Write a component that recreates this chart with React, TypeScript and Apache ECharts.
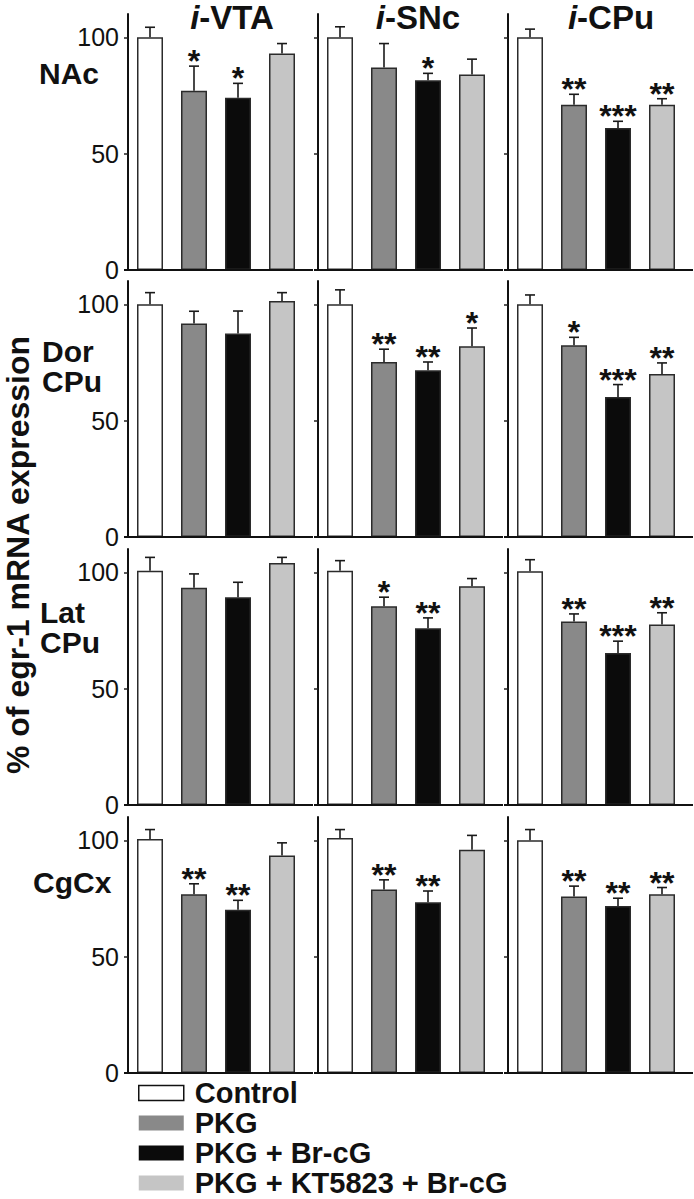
import React, { useEffect, useRef } from "react";
import * as echarts from "echarts";

const groups = ["Control", "PKG", "PKG + Br-cG", "PKG + KT5823 + Br-cG"];
const sites = ["i-VTA", "i-SNc", "i-CPu"];
const regions = ["NAc", "Dor\nCPu", "Lat\nCPu", "CgCx"];
const yTicks = [0, 50, 100];
const yTitle = "% of egr-1 mRNA expression";

// [site][group] : i-VTA, i-SNc, i-CPu
const meanNAc = [[100, 77, 74, 93], [100, 87, 81.5, 84], [100, 71, 61, 71]];
const errNAc = [[4.3, 10.6, 6.2, 4.3], [4.5, 10.3, 3, 6.6], [3.5, 4.5, 2.9, 2.6]];
const sigNAc = [["", "*", "*", ""], ["", "", "*", ""], ["", "**", "***", "**"]];

const meanDor = [[100, 91.7, 87.4, 101.4], [100, 75.2, 71.7, 82], [100, 82.4, 60.2, 70]];
const errDor = [[5, 5.3, 9.7, 3.6], [6.2, 5.5, 3.5, 7.8], [4, 3.4, 5.3, 4.8]];
const sigDor = [["", "", "", ""], ["", "**", "**", "*"], ["", "*", "***", "**"]];

const meanLat = [[100.7, 93.3, 89.3, 104], [100.7, 85.4, 76, 94], [100.4, 78.9, 65.3, 77.6]];
const errLat = [[5.7, 6, 6.4, 2.4], [4.3, 3.9, 4.4, 3.3], [5, 3.2, 5.1, 5]];
const sigLat = [["", "", "", ""], ["", "*", "**", ""], ["", "**", "***", "**"]];

const meanCgCx = [[100.6, 76.8, 70.1, 93.5], [101, 78.9, 73.4, 95.9], [100, 75.8, 71.8, 76.8]];
const errCgCx = [[4, 4.5, 4.1, 5.4], [3.6, 4.1, 4.8, 6.2], [4.6, 4.5, 3.3, 2.9]];
const sigCgCx = [["", "**", "**", ""], ["", "**", "**", ""], ["", "**", "**", "**"]];

const means = [meanNAc, meanDor, meanLat, meanCgCx];
const errs = [errNAc, errDor, errLat, errCgCx];
const sigs = [sigNAc, sigDor, sigLat, sigCgCx];

const groupColors = ["#ffffff", "#898989", "#0b0b0b", "#c5c5c5"];
const FONT = "'Liberation Sans', Arial, Helvetica, sans-serif";

const gridLefts = [128, 318, 508];
const gridWidth = 176;
const gridTops = [14, 281, 549, 817];
const gridHeight = 256;
const rowLabelPos = [
  { x: 39, y: 58 },
  { x: 42, y: 336 },
  { x: 40, y: 597 },
  { x: 33, y: 867 },
];
const titleCenters = [232, 418, 611];

export default function App() {
  const ref = useRef<HTMLDivElement>(null);

  useEffect(() => {
    if (!ref.current) return;
    const chart = echarts.init(ref.current, null, { renderer: "svg" });

    const grid: any[] = [];
    const xAxis: any[] = [];
    const yAxis: any[] = [];
    const series: any[] = [];
    const graphic: any[] = [];

    let k = 0;
    for (let r = 0; r < 4; r++) {
      for (let c = 0; c < 3; c++) {
        grid.push({
          left: gridLefts[c],
          top: gridTops[r],
          width: gridWidth,
          height: gridHeight,
          containLabel: false,
        });
        xAxis.push({
          type: "category",
          gridIndex: k,
          data: groups,
          boundaryGap: true,
          axisLine: { show: false },
          axisTick: { show: false },
          axisLabel: { show: false },
          splitLine: { show: false },
        });
        yAxis.push({
          type: "value",
          gridIndex: k,
          min: 0,
          max: 110,
          interval: 50,
          axisLine: { show: true, lineStyle: { color: "#111", width: 2 } },
          axisTick: {
            show: true,
            inside: false,
            length: 4,
            customValues: yTicks,
            lineStyle: { color: "#222", width: 1.5 },
          },
          axisLabel: {
            show: c === 0,
            customValues: yTicks,
            fontSize: 25,
            color: "#111",
            fontFamily: FONT,
            margin: 9,
          },
          splitLine: { show: false },
        });
        const m = means[r][c];
        const e = errs[r][c];
        const s = sigs[r][c];
        groups.forEach((g, gi) => {
          series.push({
            type: "bar",
            name: g,
            xAxisIndex: k,
            yAxisIndex: k,
            barWidth: 26,
            barGap: "-100%",
            data: [[gi, m[gi]]],
            itemStyle: { color: groupColors[gi], borderColor: "#2b2b2b", borderWidth: 1.5 },
            z: 2,
          });
        });
        series.push({
          type: "custom",
          xAxisIndex: k,
          yAxisIndex: k,
          z: 4,
          data: m.map((v, gi) => [gi, v, e[gi]]),
          renderItem: (params: any, api: any) => {
            const gi = api.value(0);
            const v = api.value(1);
            const ev = api.value(2);
            const base = api.coord([gi, v]);
            const top = api.coord([gi, v + ev]);
            const star = s[params.dataIndex];
            const children: any[] = [
              {
                type: "line",
                shape: { x1: base[0], y1: base[1], x2: top[0], y2: top[1] },
                style: { stroke: "#1a1a1a", lineWidth: 1.6 },
              },
              {
                type: "line",
                shape: { x1: top[0] - 5, y1: top[1], x2: top[0] + 5, y2: top[1] },
                style: { stroke: "#1a1a1a", lineWidth: 1.6 },
              },
            ];
            if (star) {
              children.push({
                type: "text",
                x: top[0],
                y: top[1] - 5,
                style: {
                  text: star,
                  fill: "#111",
                  fontSize: 32,
                  fontWeight: "bold",
                  fontFamily: FONT,
                  align: "center",
                  textAlign: "center",
                  verticalAlign: "middle",
                  textVerticalAlign: "middle",
                },
              });
            }
            return { type: "group", children };
          },
        });
        graphic.push({
          type: "line",
          z: 10,
          shape: {
            x1: gridLefts[c] - 4,
            y1: gridTops[r] + gridHeight,
            x2: gridLefts[c] + 185,
            y2: gridTops[r] + gridHeight,
          },
          style: { stroke: "#111", lineWidth: 2 },
        });
        k++;
      }
    }

    sites.forEach((s, c) => {
      const pre = s.slice(0, 1);
      const rest = s.slice(1);
      graphic.push({
        type: "text",
        x: titleCenters[c],
        y: 17,
        z: 10,
        style: {
          text: `{i|${pre}}{n|${rest}}`,
          align: "center",
          textAlign: "center",
          verticalAlign: "middle",
          textVerticalAlign: "middle",
          fill: "#111",
          rich: {
            i: { fontSize: 33, fontWeight: "bold", fontStyle: "italic", fontFamily: FONT, fill: "#111" },
            n: { fontSize: 33, fontWeight: "bold", fontFamily: FONT, fill: "#111" },
          },
        },
      });
    });

    regions.forEach((rl, r) => {
      graphic.push({
        type: "text",
        x: rowLabelPos[r].x,
        y: rowLabelPos[r].y,
        z: 10,
        style: {
          text: rl,
          fill: "#111",
          fontSize: 30,
          fontWeight: "bold",
          fontFamily: FONT,
          lineHeight: 30,
          align: "left",
          textAlign: "left",
          verticalAlign: "top",
          textVerticalAlign: "top",
        },
      });
    });

    graphic.push({
      type: "text",
      x: 18,
      y: 555,
      rotation: Math.PI / 2,
      z: 10,
      style: {
        text: yTitle,
        fill: "#111",
        fontSize: 32,
        fontWeight: "bold",
        fontFamily: FONT,
        align: "center",
        textAlign: "center",
        verticalAlign: "middle",
        textVerticalAlign: "middle",
      },
    });

    chart.setOption({
      animation: false,
      backgroundColor: "#ffffff",
      grid,
      xAxis,
      yAxis,
      series,
      graphic,
      legend: {
        orient: "vertical",
        left: 138,
        top: 1078,
        height: 121,
        padding: 0,
        itemGap: 0,
        itemWidth: 45,
        itemHeight: 15,
        icon: "rect",
        selectedMode: false,
        textStyle: {
          fontSize: 29,
          fontWeight: "bold",
          color: "#111",
          fontFamily: FONT,
          lineHeight: 30,
          padding: [0, 0, 0, 6],
        },
        data: groups.map((g, i) => ({
          name: g,
          itemStyle:
            i === 0
              ? { color: "#ffffff", borderColor: "#111", borderWidth: 1.5 }
              : { color: groupColors[i], borderWidth: 0 },
        })),
      },
    });

    return () => chart.dispose();
  }, []);

  return (
    <div
      ref={ref}
      style={{ position: "absolute", left: 0, top: 0, width: 694, height: 1199, background: "#fff" }}
    />
  );
}
